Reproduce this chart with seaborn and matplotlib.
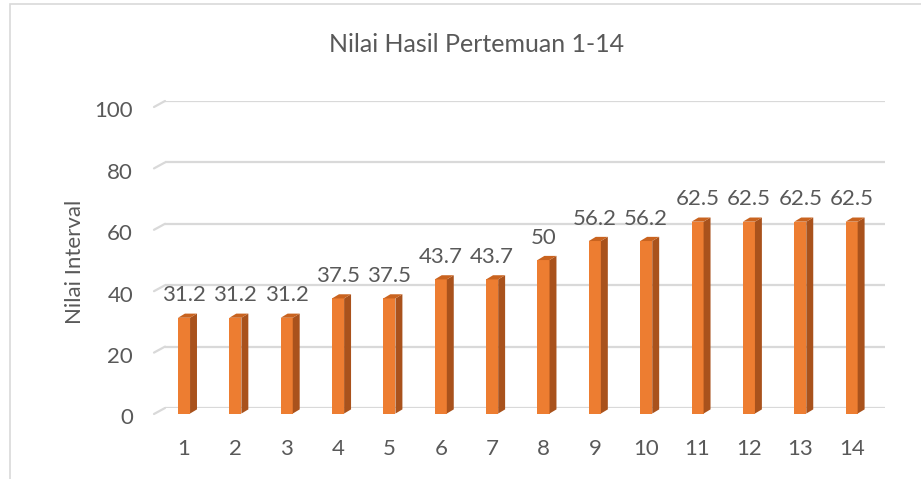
import matplotlib
matplotlib.use("Agg")
import matplotlib.pyplot as plt
import matplotlib.transforms as mtransforms
from matplotlib.patches import Polygon, Rectangle
import pandas as pd
import seaborn as sns

# data
pertemuan = ["1", "2", "3", "4", "5", "6", "7", "8", "9", "10", "11", "12", "13", "14"]
nilai = [31.2, 31.2, 31.2, 37.5, 37.5, 43.7, 43.7, 50, 56.2, 56.2, 62.5, 62.5, 62.5, 62.5]
label_teks = ["31.2", "31.2", "31.2", "37.5", "37.5", "43.7", "43.7", "50",
              "56.2", "56.2", "62.5", "62.5", "62.5", "62.5"]

df = pd.DataFrame({"pertemuan": pertemuan, "nilai": nilai})

sns.set_theme(style="white")
plt.rcParams["font.family"] = ["Lato", "DejaVu Sans"]

TEXT = "#595959"
FRONT = "#ED7D31"
SIDE = "#A9521C"
TOP = "#C9631F"
GRID = "#D9D9D9"

fig = plt.figure(figsize=(9.21, 4.79), dpi=100)
ax = fig.add_axes([165 / 921, 1 - 408 / 479, (885 - 165) / 921, (408 - 101) / 479])

sns.barplot(data=df, x="pertemuan", y="nilai", color=FRONT, width=0.235,
            saturation=1, ax=ax, linewidth=0)

ax.set_ylim(0, 100)
ax.set_xlim(-0.37, 13.65)
ax.set_yticks([0, 20, 40, 60, 80, 100])
ax.yaxis.grid(True, color=GRID, linewidth=1.6)
ax.set_axisbelow(True)
for s in ax.spines.values():
    s.set_visible(False)
ax.set_xlabel("")
ax.set_ylabel("")
ax.tick_params(axis="both", length=0, labelsize=16, labelcolor=TEXT)
ax.tick_params(axis="y", pad=23)
ax.tick_params(axis="x", pad=22)

# shift front faces slightly down, add side + top faces for the 3D look
down = mtransforms.ScaledTranslation(0, -4 / 72, fig.dpi_scale_trans)
base = ax.transData + down
side_t = base + mtransforms.ScaledTranslation(5 / 72, 3 / 72, fig.dpi_scale_trans)
for bar in list(ax.patches):
    bar.set_transform(base)
    bar.set_clip_on(False)
    x0 = bar.get_x()
    w = bar.get_width()
    h = bar.get_height()
    side = [base.transform((x0 + w, 0)), base.transform((x0 + w, h)),
            side_t.transform((x0 + w, h)), side_t.transform((x0 + w, 0))]
    ax.add_patch(Polygon(side, closed=True, transform=None, facecolor=SIDE,
                         edgecolor="none", zorder=bar.get_zorder(), clip_on=False))
    top = [base.transform((x0, h)), base.transform((x0 + w, h)),
           side_t.transform((x0 + w, h)), side_t.transform((x0, h))]
    ax.add_patch(Polygon(top, closed=True, transform=None, facecolor=TOP,
                         edgecolor="none", zorder=bar.get_zorder(), clip_on=False))

# data labels
for i, (v, t) in enumerate(zip(nilai, label_teks)):
    ax.annotate(t, (i, v), xytext=(0, 5), textcoords="offset points",
                ha="center", va="bottom", fontsize=16, color=TEXT)

# small slanted edges where the gridlines meet the side wall
for yv in [0, 20, 40, 60, 80, 100]:
    p1 = ax.transData.transform((-0.37, yv))
    ax.plot([p1[0] - 11, p1[0]], [p1[1] - 6, p1[1]], color=GRID, linewidth=1.6,
            transform=None, clip_on=False)

# tick labels sit at the front edge, a bit lower than the back gridlines
off = mtransforms.ScaledTranslation(0, -6 / 72, fig.dpi_scale_trans)
for lab in ax.get_yticklabels():
    lab.set_transform(lab.get_transform() + off)

fig.text(477 / 921, 1 - 45 / 479, "Nilai Hasil Pertemuan 1-14", ha="center",
         va="center", fontsize=18, color=TEXT)
fig.text(75 / 921, 1 - 262 / 479, "Nilai Interval", ha="center", va="center",
         rotation=90, fontsize=16, color=TEXT)

# chart border
fig.add_artist(Rectangle((10 / 921, -0.1), 1.2, 1 - 4 / 479 + 0.1,
                         transform=fig.transFigure, fill=False,
                         edgecolor=GRID, linewidth=1.2))

fig.savefig("out.png", dpi=100)
